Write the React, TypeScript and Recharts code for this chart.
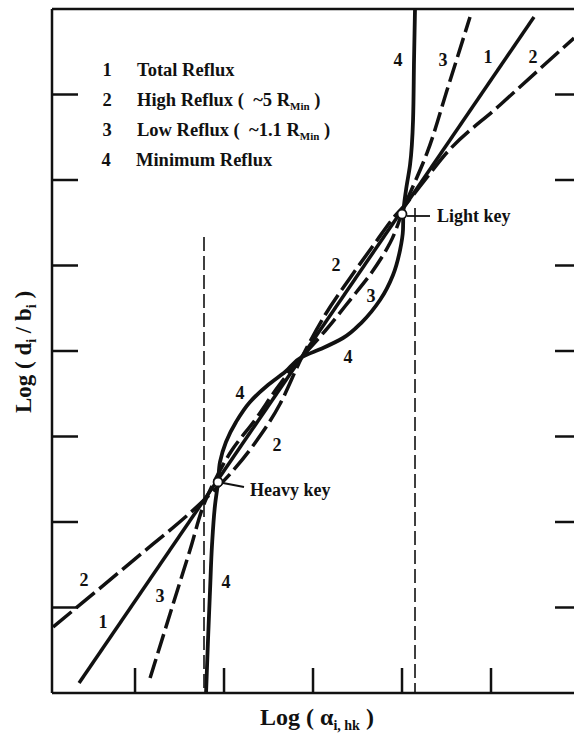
import React from 'react';
import { ComposedChart, Line, XAxis, YAxis, ReferenceLine, ReferenceDot } from 'recharts';

// axis units: x = Log(alpha i,hk), y = Log(di/bi)
const xTicks = [1, 2, 3, 4, 5];
const yTicks = [1, 2, 3, 4, 5, 6, 7];

// 1 - total reflux (straight line)
const totalReflux = [
    { u: 0.371, v: 0.117 },
    { u: 5.483, v: 7.906 },
];

// 2 - high reflux (~5 Rmin)
const highReflux = [
    { u: 0.079, v: 0.772 },
    { u: 0.944, v: 1.52 },
    { u: 1.787, v: 2.269 },
    { u: 2.067, v: 2.561 },
    { u: 2.348, v: 2.924 },
    { u: 2.629, v: 3.38 },
    { u: 2.876, v: 3.93 },
    { u: 3.135, v: 4.421 },
    { u: 3.416, v: 4.854 },
    { u: 3.697, v: 5.263 },
    { u: 3.921, v: 5.579 },
    { u: 4.034, v: 5.708 },
    { u: 4.258, v: 6.0 },
    { u: 4.461, v: 6.269 },
    { u: 5.101, v: 6.877 },
    { u: 5.933, v: 7.661 },
];

// 3 - low reflux (~1.1 Rmin)
const lowReflux = [
    { u: 1.169, v: 0.175 },
    { u: 1.393, v: 0.924 },
    { u: 1.618, v: 1.673 },
    { u: 1.798, v: 2.269 },
    { u: 1.91, v: 2.515 },
    { u: 2.09, v: 2.842 },
    { u: 2.348, v: 3.193 },
    { u: 2.629, v: 3.614 },
    { u: 2.876, v: 3.93 },
    { u: 3.135, v: 4.234 },
    { u: 3.416, v: 4.596 },
    { u: 3.663, v: 4.924 },
    { u: 3.865, v: 5.263 },
    { u: 4.034, v: 5.708 },
    { u: 4.281, v: 6.316 },
    { u: 4.517, v: 7.088 },
    { u: 4.764, v: 7.906 },
];

// 4 - minimum reflux
const minReflux = [
    { u: 1.798, v: 0 },
    { u: 1.82, v: 0.62 },
    { u: 1.843, v: 1.205 },
    { u: 1.865, v: 1.731 },
    { u: 1.899, v: 2.199 },
    { u: 1.933, v: 2.468 },
    { u: 1.955, v: 2.702 },
    { u: 2.022, v: 2.936 },
    { u: 2.135, v: 3.17 },
    { u: 2.292, v: 3.404 },
    { u: 2.494, v: 3.602 },
    { u: 2.685, v: 3.754 },
    { u: 2.876, v: 3.93 },
    { u: 3.112, v: 4.035 },
    { u: 3.337, v: 4.152 },
    { u: 3.551, v: 4.339 },
    { u: 3.753, v: 4.596 },
    { u: 3.899, v: 4.889 },
    { u: 3.978, v: 5.181 },
    { u: 4.011, v: 5.415 },
    { u: 4.015, v: 5.614 },
    { u: 4.045, v: 5.883 },
    { u: 4.09, v: 6.175 },
    { u: 4.124, v: 6.702 },
    { u: 4.135, v: 7.404 },
    { u: 4.146, v: 8 },
];

const keyPoints = [
    { name: 'Heavy key', u: 1.933, v: 2.468 },
    { name: 'Light key', u: 4.0, v: 5.602 },
];

// vertical dashed guides under the keys
const keyGuides = [
    { u: 1.775, top: 5.333 },
    { u: 4.146, top: 5.673 },
];

const curveLabels = [
    { text: '4', x: 398, y: 66 },
    { text: '3', x: 443, y: 66 },
    { text: '1', x: 488, y: 63 },
    { text: '2', x: 533, y: 63 },
    { text: '2', x: 336, y: 271 },
    { text: '3', x: 371, y: 302 },
    { text: '4', x: 348, y: 363 },
    { text: '4', x: 240, y: 399 },
    { text: '2', x: 277, y: 451 },
    { text: '2', x: 84, y: 586 },
    { text: '1', x: 103, y: 628 },
    { text: '3', x: 160, y: 602 },
    { text: '4', x: 226, y: 588 },
];

const INK = '#111';
const SERIF = "'Liberation Serif', 'Times New Roman', serif";

const noTick = () => <g />;

const Overlay = () => (
    <svg
        width={574}
        height={734}
        style={{ position: 'absolute', left: 0, top: 0, pointerEvents: 'none' }}
        fontFamily={SERIF}
        fontWeight="bold"
        fill={INK}
    >
        {/* legend */}
        <g fontSize={18.5}>
            <text x={107} y={76} textAnchor="middle">1</text>
            <text x={137} y={76}>Total Reflux</text>
            <text x={107} y={106} textAnchor="middle">2</text>
            <text x={137} y={106}>
                High Reflux ( {'\u00a0'}~5 R<tspan fontSize={11} dy={4}>Min</tspan><tspan dy={-4}> )</tspan>
            </text>
            <text x={107} y={136} textAnchor="middle">3</text>
            <text x={137} y={136}>
                Low Reflux ( {'\u00a0'}~1.1 R<tspan fontSize={11} dy={4}>Min</tspan><tspan dy={-4}> )</tspan>
            </text>
            <text x={106} y={166} textAnchor="middle">4</text>
            <text x={136} y={166}>Minimum Reflux</text>
        </g>

        {curveLabels.map((l, i) => (
            <text key={i} x={l.x} y={l.y} textAnchor="middle" fontSize={18}>
                {l.text}
            </text>
        ))}

        {/* key callouts */}
        <line x1={407} y1={216} x2={430} y2={216} stroke={INK} strokeWidth={1.8} />
        <text x={437} y={222} fontSize={18}>{keyPoints[1].name}</text>
        <line x1={223} y1={483} x2={244} y2={487} stroke={INK} strokeWidth={1.8} />
        <text x={250} y={496} fontSize={18}>{keyPoints[0].name}</text>

        {/* axis titles */}
        <text x={260} y={725} fontSize={24}>
            Log ( α<tspan fontSize={14} dy={5}>i, hk</tspan><tspan dy={-5}> )</tspan>
        </text>
        <text x={31} y={352} fontSize={23} textAnchor="middle" transform="rotate(-90, 31, 352)">
            Log ( d<tspan fontSize={14} dy={5}>i</tspan><tspan dy={-5}> / b</tspan>
            <tspan fontSize={14} dy={5}>i</tspan><tspan dy={-5}> )</tspan>
        </text>
    </svg>
);

export default function App() {
    const axisLine = { stroke: INK, strokeWidth: 2.5 };
    const tickLine = { stroke: INK, strokeWidth: 2.5 };
    return (
        <div
            style={{
                position: 'fixed',
                left: 0,
                top: 0,
                width: 574,
                height: 734,
                overflow: 'hidden',
                background: '#fff',
            }}
        >
            <ComposedChart width={600} height={734} margin={{ top: 7, right: 18, bottom: 39, left: 50 }}>
                <XAxis
                    xAxisId={0}
                    type="number"
                    dataKey="u"
                    domain={[0.067, 6]}
                    ticks={xTicks}
                    interval={0}
                    allowDataOverflow
                    height={2}
                    tickSize={-25}
                    tick={noTick}
                    axisLine={axisLine}
                    tickLine={tickLine}
                />
                <XAxis
                    xAxisId="top"
                    orientation="top"
                    type="number"
                    domain={[0.067, 6]}
                    ticks={xTicks}
                    interval={0}
                    allowDataOverflow
                    height={2}
                    tickSize={-25}
                    tick={noTick}
                    axisLine={axisLine}
                    tickLine={tickLine}
                />
                <YAxis
                    yAxisId={0}
                    type="number"
                    domain={[0, 8]}
                    ticks={yTicks}
                    interval={0}
                    allowDataOverflow
                    width={2}
                    tickSize={-26}
                    tick={noTick}
                    axisLine={axisLine}
                    tickLine={tickLine}
                />
                <YAxis
                    yAxisId="right"
                    orientation="right"
                    type="number"
                    domain={[0, 8]}
                    ticks={yTicks}
                    interval={0}
                    allowDataOverflow
                    width={2}
                    tickSize={-25}
                    tick={noTick}
                    axisLine={axisLine}
                    tickLine={tickLine}
                />

                {keyGuides.map((g, i) => (
                    <ReferenceLine
                        key={i}
                        segment={[
                            { x: g.u, y: g.top },
                            { x: g.u, y: 0 },
                        ]}
                        stroke={INK}
                        strokeWidth={1.6}
                        strokeDasharray="14 5"
                    />
                ))}

                <Line data={totalReflux} dataKey="v" type="linear" stroke={INK} strokeWidth={3.5}
                    dot={false} activeDot={false} isAnimationActive={false} />
                <Line data={highReflux} dataKey="v" type="monotone" stroke={INK} strokeWidth={3.5}
                    strokeDasharray="24 6" dot={false} activeDot={false} isAnimationActive={false} />
                <Line data={lowReflux} dataKey="v" type="monotoneY" stroke={INK} strokeWidth={3.5}
                    strokeDasharray="20 6" dot={false} activeDot={false} isAnimationActive={false} />
                <Line data={minReflux} dataKey="v" type="monotoneY" stroke={INK} strokeWidth={3.8}
                    dot={false} activeDot={false} isAnimationActive={false} />

                {keyPoints.map((k) => (
                    <ReferenceDot key={k.name} x={k.u} y={k.v} r={4.5} fill="#fff" stroke={INK} strokeWidth={1.8} />
                ))}
            </ComposedChart>
            <Overlay />
        </div>
    );
}
